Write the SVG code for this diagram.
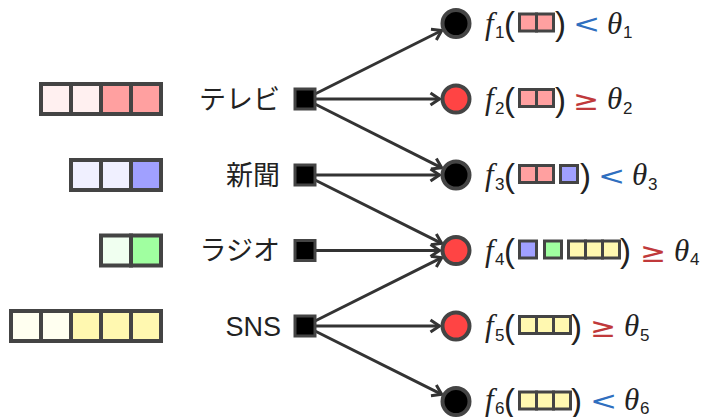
<svg xmlns="http://www.w3.org/2000/svg" width="705" height="417" viewBox="0 0 705 417">
<style>
.big{stroke:#444;stroke-width:4}
.sm{stroke:#444;stroke-width:3}
.lp{fill:#fff0f0}.dp{fill:#ffa0a0}
.lb{fill:#f0f0ff}.db{fill:#a0a0ff}
.lg{fill:#f0fff0}.dg{fill:#a0ffa0}
.ly{fill:#fffff0}.dy{fill:#fff8b0}
.sq{fill:#000;stroke:#444;stroke-width:3}
.cb{fill:#000;stroke:#444;stroke-width:4}
.cr{fill:#ff4444;stroke:#444;stroke-width:4}
.lbl{font-family:"Noto Sans CJK JP","Liberation Sans",sans-serif;font-size:27px;fill:#222;text-anchor:end}
.en{font-family:"Liberation Sans",Arial,sans-serif;font-size:27px;fill:#222;text-anchor:end}
.fx{font-family:"Liberation Serif",serif;font-style:italic;font-size:31px;fill:#222}
.sub{font-family:"Liberation Sans",Arial,sans-serif;font-size:17px;fill:#222}
.par{font-family:"Liberation Sans",Arial,sans-serif;font-size:33px;fill:#222}
.lt{font-family:"DejaVu Sans",sans-serif;font-size:26px;fill:#2f6fbf}
.ge{font-family:"DejaVu Sans",sans-serif;font-size:26px;fill:#c0393b}
.th{font-family:"Liberation Serif",serif;font-style:italic;font-size:31px;fill:#222}
.edge{stroke:#333;stroke-width:3;fill:none;marker-end:url(#ah)}
</style>
<defs>
<marker id="ah" markerUnits="userSpaceOnUse" markerWidth="14" markerHeight="16" refX="11" refY="7" orient="auto" viewBox="0 0 14 14">
<path d="M2,1 L11,7 L2,13" fill="none" stroke="#333" stroke-width="3" stroke-linejoin="miter"/>
</marker>
</defs>

<g id="connectors">
<line class="edge" x1="305" y1="99" x2="441.7" y2="30.5"/>
<line class="edge" x1="305" y1="99" x2="439.5" y2="99"/>
<line class="edge" x1="305" y1="99" x2="441.7" y2="167.8"/>
<line class="edge" x1="305" y1="175" x2="439.5" y2="175"/>
<line class="edge" x1="305" y1="175" x2="441.7" y2="243.3"/>
<line class="edge" x1="305" y1="250.5" x2="439.5" y2="250.5"/>
<line class="edge" x1="305" y1="326" x2="441.7" y2="257.7"/>
<line class="edge" x1="305" y1="326" x2="439.5" y2="326"/>
<line class="edge" x1="305" y1="326" x2="441.7" y2="394.3"/>
</g>

<g id="tv">
<rect class="big lp" x="41" y="84" width="30" height="30"/>
<rect class="big lp" x="71" y="84" width="30" height="30"/>
<rect class="big dp" x="101" y="84" width="30" height="30"/>
<rect class="big dp" x="131" y="84" width="30" height="30"/>
<text class="lbl" x="280" y="108.5">テレビ</text>
<rect class="sq" x="295" y="89" width="20" height="20"/>
</g>
<g id="newspaper">
<rect class="big lb" x="71" y="160" width="30" height="30"/>
<rect class="big lb" x="101" y="160" width="30" height="30"/>
<rect class="big db" x="131" y="160" width="30" height="30"/>
<text class="lbl" x="280" y="184.5">新聞</text>
<rect class="sq" x="295" y="165" width="20" height="20"/>
</g>
<g id="radio">
<rect class="big lg" x="101" y="235.5" width="30" height="30"/>
<rect class="big dg" x="131" y="235.5" width="30" height="30"/>
<text class="lbl" x="280" y="260">ラジオ</text>
<rect class="sq" x="295" y="240.5" width="20" height="20"/>
</g>
<g id="sns">
<rect class="big ly" x="11" y="311" width="30" height="30"/>
<rect class="big ly" x="41" y="311" width="30" height="30"/>
<rect class="big dy" x="71" y="311" width="30" height="30"/>
<rect class="big dy" x="101" y="311" width="30" height="30"/>
<rect class="big dy" x="131" y="311" width="30" height="30"/>
<text class="en" x="281" y="335.5">SNS</text>
<rect class="sq" x="295" y="316" width="20" height="20"/>
</g>

<g id="f1">
<circle class="cb" cx="456" cy="23.5" r="13.5"/>
<text x="485" y="33.5"><tspan class="fx">f</tspan><tspan class="sub" x="495" y="38">1</tspan><tspan class="par" x="504" y="35">(</tspan><tspan class="par" x="555" y="35">)</tspan><tspan class="th" x="607" y="33.5">θ</tspan><tspan class="sub" x="623" y="38">1</tspan></text>
<text class="lt" transform="translate(573,33) scale(1.25,1)">&lt;</text>
<rect class="sm dp" x="519.5" y="14" width="17" height="17"/>
<rect class="sm dp" x="536.5" y="14" width="17" height="17"/>
</g>
<g id="f2">
<circle class="cr" cx="456" cy="99" r="13.5"/>
<text x="485" y="109"><tspan class="fx">f</tspan><tspan class="sub" x="495" y="113.5">2</tspan><tspan class="par" x="504" y="110.5">(</tspan><tspan class="par" x="555" y="110.5">)</tspan><tspan class="th" x="607" y="109">θ</tspan><tspan class="sub" x="623" y="113.5">2</tspan></text>
<text class="ge" transform="translate(573,110) scale(1.2,1.05)">≥</text>
<rect class="sm dp" x="519.5" y="89.5" width="17" height="17"/>
<rect class="sm dp" x="536.5" y="89.5" width="17" height="17"/>
</g>
<g id="f3">
<circle class="cb" cx="456" cy="175" r="13.5"/>
<text x="485" y="185"><tspan class="fx">f</tspan><tspan class="sub" x="495" y="189.5">3</tspan><tspan class="par" x="504" y="186.5">(</tspan><tspan class="par" x="580" y="186.5">)</tspan><tspan class="th" x="632" y="185">θ</tspan><tspan class="sub" x="648" y="189.5">3</tspan></text>
<text class="lt" transform="translate(598,184.5) scale(1.25,1)">&lt;</text>
<rect class="sm dp" x="519.5" y="165.5" width="17" height="17"/>
<rect class="sm dp" x="536.5" y="165.5" width="17" height="17"/>
<rect class="sm db" x="560.5" y="165.5" width="17" height="17"/>
</g>
<g id="f4">
<circle class="cr" cx="456" cy="250.5" r="13.5"/>
<text x="485" y="260.5"><tspan class="fx">f</tspan><tspan class="sub" x="495" y="265">4</tspan><tspan class="par" x="504" y="262">(</tspan><tspan class="par" x="620" y="262">)</tspan><tspan class="th" x="674" y="260.5">θ</tspan><tspan class="sub" x="690" y="265">4</tspan></text>
<text class="ge" transform="translate(640,261.5) scale(1.2,1.05)">≥</text>
<rect class="sm db" x="519.5" y="241" width="17" height="17"/>
<rect class="sm dg" x="544.5" y="241" width="17" height="17"/>
<rect class="sm dy" x="568.5" y="241" width="17" height="17"/>
<rect class="sm dy" x="585.5" y="241" width="17" height="17"/>
<rect class="sm dy" x="602.5" y="241" width="17" height="17"/>
</g>
<g id="f5">
<circle class="cr" cx="456" cy="326" r="13.5"/>
<text x="485" y="336"><tspan class="fx">f</tspan><tspan class="sub" x="495" y="340.5">5</tspan><tspan class="par" x="504" y="337.5">(</tspan><tspan class="par" x="571" y="337.5">)</tspan><tspan class="th" x="624" y="336">θ</tspan><tspan class="sub" x="640" y="340.5">5</tspan></text>
<text class="ge" transform="translate(590,337) scale(1.2,1.05)">≥</text>
<rect class="sm dy" x="519.5" y="316.5" width="17" height="17"/>
<rect class="sm dy" x="536.5" y="316.5" width="17" height="17"/>
<rect class="sm dy" x="553.5" y="316.5" width="17" height="17"/>
</g>
<g id="f6">
<circle class="cb" cx="456" cy="401.5" r="13.5"/>
<text x="485" y="410"><tspan class="fx">f</tspan><tspan class="sub" x="495" y="414">6</tspan><tspan class="par" x="504" y="411.5">(</tspan><tspan class="par" x="571" y="411.5">)</tspan><tspan class="th" x="624" y="410">θ</tspan><tspan class="sub" x="640" y="414">6</tspan></text>
<text class="lt" transform="translate(590,410) scale(1.25,1)">&lt;</text>
<rect class="sm dy" x="519.5" y="392" width="17" height="17"/>
<rect class="sm dy" x="536.5" y="392" width="17" height="17"/>
<rect class="sm dy" x="553.5" y="392" width="17" height="17"/>
</g>
</svg>
